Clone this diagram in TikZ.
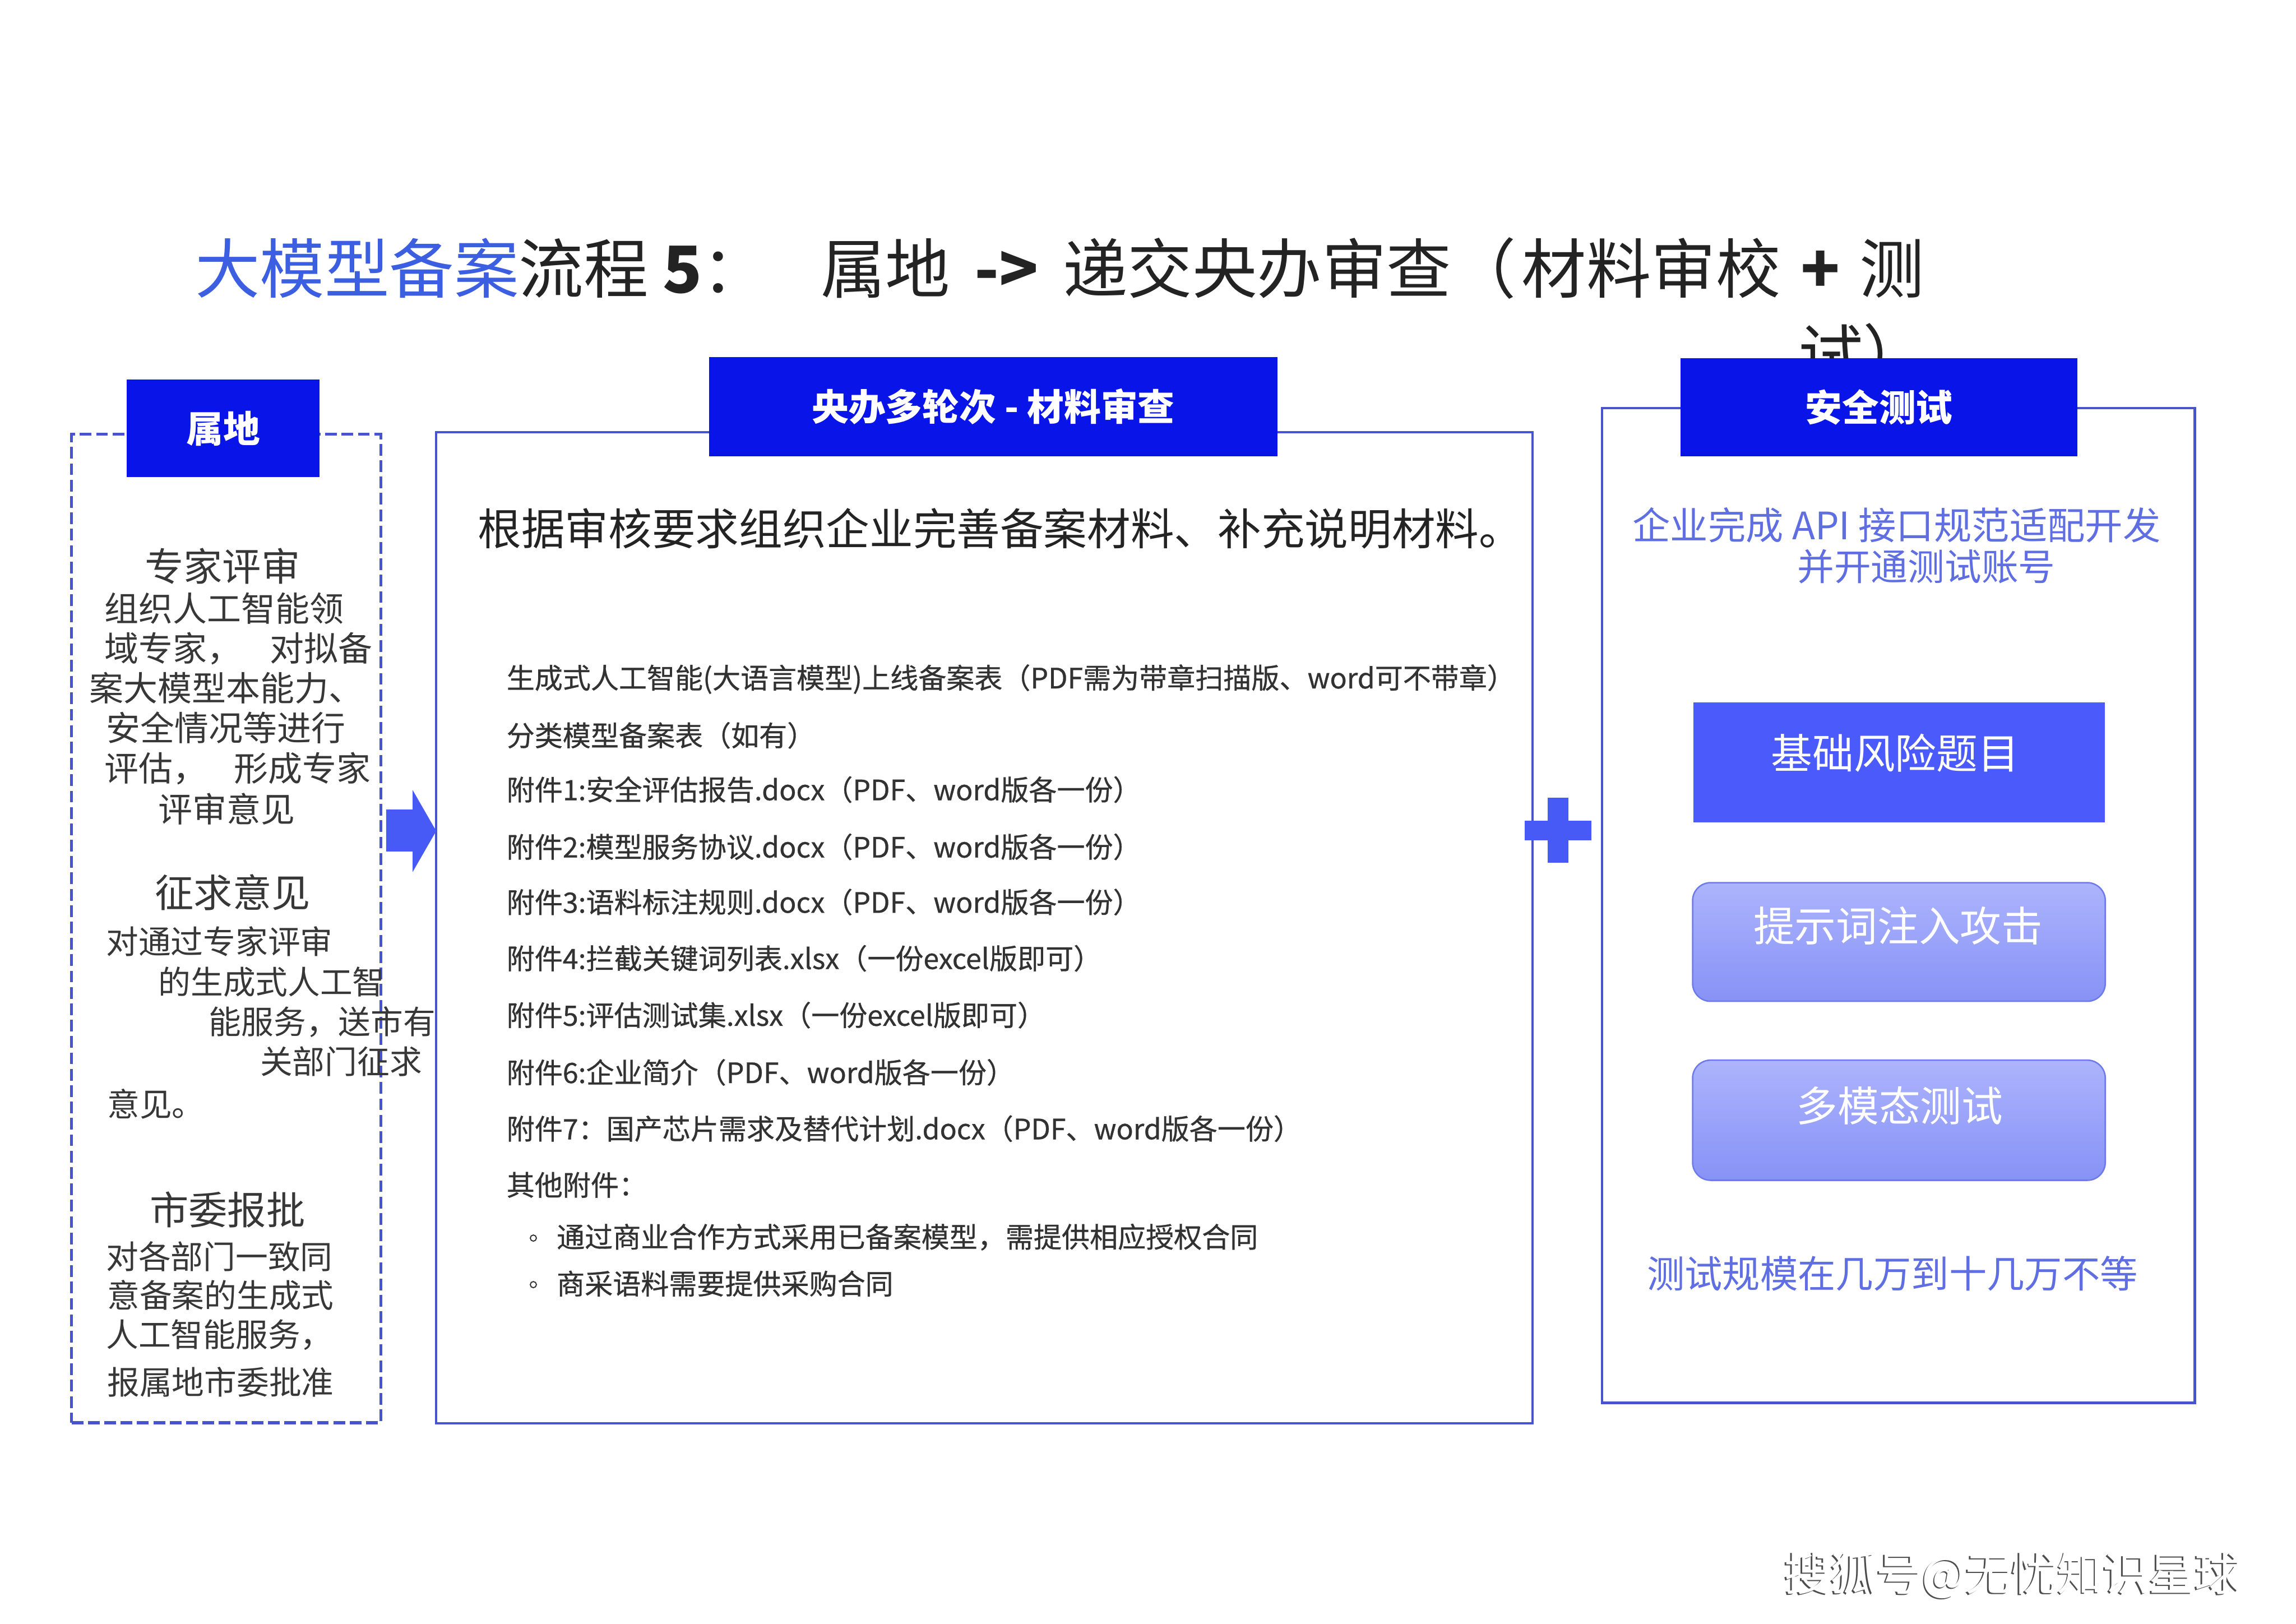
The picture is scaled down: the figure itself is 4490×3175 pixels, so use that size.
\documentclass[tikz,border=0pt]{standalone}
\usepackage{fontspec}
\setmainfont{Noto Sans CJK SC}
\newfontfamily\listfont[FakeBold=0.6]{Noto Sans CJK SC}
\usetikzlibrary{fit}
\definecolor{hdrblue}{RGB}{8,20,232}
\definecolor{boxline}{RGB}{72,84,205}
\definecolor{arrowblue}{RGB}{72,90,245}
\definecolor{basicblue}{RGB}{75,90,250}
\definecolor{gradtop}{RGB}{172,180,252}
\definecolor{gradbot}{RGB}{135,146,246}
\definecolor{gradline}{RGB}{110,122,235}
\definecolor{lighttext}{RGB}{95,110,225}
\definecolor{titleblue}{RGB}{60,95,225}
\definecolor{titlegray}{RGB}{35,35,35}
\definecolor{bodygray}{RGB}{55,55,55}
\definecolor{listgray}{RGB}{50,50,50}
\newcommand{\fsz}[1]{\fontsize{#1pt}{#1pt}\selectfont}
\begin{document}
\begin{tikzpicture}[x=0.01cm,y=-0.01cm,
  txt/.style={inner sep=0, anchor=west},
  ctxt/.style={inner sep=0, anchor=center},
  dashbox/.style={draw=boxline, line width=1.7pt, dash pattern=on 6.5pt off 2.6pt, inner sep=0},
  solidbox/.style={draw=boxline, line width=1.4pt, inner sep=0},
  hdr/.style={fill=hdrblue, text=white, inner sep=0, font=\fsz{20.5}\bfseries},
  lhead/.style={ctxt, text=bodygray, font=\fsz{21.6}},
  lbodyA/.style={txt, text=bodygray, font=\fsz{19}},
  lbodyB/.style={txt, text=bodygray, font=\fsz{18}},
  listline/.style={txt, text=listgray, font=\listfont\fsz{15.6}},
  gradbox/.style={top color=gradtop, bottom color=gradbot, draw=gradline, line width=0.8pt, rounded corners=10pt, inner sep=0},
  boxtext/.style={ctxt, text=white, font=\fsz{23}},
  righttext/.style={txt, text=lighttext, font=\fsz{20.5}}
]
\useasboundingbox (0,0) rectangle (4490,3175);
\fill[white] (0,0) rectangle (4490,3175);

% title
\node[txt, text=titlegray, font=\fsz{36}] (title) at (381,525)
  {{\color{titleblue}大模型备案}流程 \textbf{5}：\hspace{0.83em}属地\hspace{0.15em} \textbf{->} \hspace{0.15em}递交央办审查（\hspace{0.09em}材料审校\hspace{0.08em} \textbf{+} \hspace{0.08em}测};
\node[txt, text=titlegray, font=\fsz{36}] (title2) at (3516,692) {试）};

% frames
\node[dashbox, fit={(140,849) (745,2782)}] (loc) {};
\node[solidbox, fit={(853,845) (2997,2783)}] (mid) {};
\node[solidbox, fit={(3133,798) (4292,2743)}] (safe) {};

% headers
\node[hdr, minimum width=3.77cm, minimum height=1.91cm] (lochdr) at (436.5,837.5) {属地};
\node[hdr, minimum width=11.11cm, minimum height=1.94cm] (midhdr) at (1942.5,795) {央办多轮次 - 材料审查};
\node[hdr, minimum width=7.75cm, minimum height=1.92cm] (safehdr) at (3674.5,796) {安全测试};

% left text
\node[lhead] (h1) at (435,1107) {专家评审};
\node[lbodyA] (a1) at (204,1190) {组织人工智能领};
\node[lbodyA] (a2) at (204,1268) {域专家，\hspace{16pt}对拟备};
\node[lbodyA] (a3) at (174,1345) {案大模型本能力、};
\node[lbodyA] (a4) at (207,1423) {安全情况等进行};
\node[lbodyA] (a5) at (204,1503) {评估，\hspace{15pt}形成专家};
\node[lbodyA] (a6) at (309,1582) {评审意见};

\node[lhead] (h2) at (455,1745) {征求意见};
\node[lbodyB] (b1) at (207,1841) {对通过专家评审};
\node[lbodyB] (b2) at (309,1920) {的生成式人工智};
\node[lbodyB] (b3) at (408,1998) {能服务，送市有};
\node[lbodyB] (b4) at (508,2076) {关部门征求};
\node[lbodyB] (b5) at (209,2159) {意见。};

\node[lhead] (h3) at (445,2365) {市委报批};
\node[lbodyB] (c1) at (207,2457) {对各部门一致同};
\node[lbodyB] (c2) at (209,2533) {意备案的生成式};
\node[lbodyB] (c3) at (207,2610) {人工智能服务，};
\node[lbodyB] (c4) at (209,2702) {报属地市委批准};

% arrow
\fill[arrowblue] (755,1583) -- (807,1583) -- (807,1545) -- (853,1625) -- (807,1705) -- (807,1665) -- (755,1665) -- cycle;

% middle text
\node[txt, text=titlegray, font=\fsz{24.2}] (req) at (934,1034) {根据审核要求组织企业完善备案材料、补充说明材料。};
\node[listline] (l1) at (990,1328) {生成式人工智能(大语言模型)上线备案表（PDF需为带章扫描版、word可不带章）};
\node[listline] (l2) at (990,1438) {分类模型备案表（如有）};
\node[listline] (l3) at (990,1544) {附件1:安全评估报告.docx（PDF、word版各一份）};
\node[listline] (l4) at (990,1656) {附件2:模型服务协议.docx（PDF、word版各一份）};
\node[listline] (l5) at (990,1764) {附件3:语料标注规则.docx（PDF、word版各一份）};
\node[listline] (l6) at (990,1874) {附件4:拦截关键词列表.xlsx（一份excel版即可）};
\node[listline] (l7) at (990,1985) {附件5:评估测试集.xlsx（一份excel版即可）};
\node[listline] (l8) at (990,2097) {附件6:企业简介（PDF、word版各一份）};
\node[listline] (l9) at (990,2207) {附件7：国产芯片需求及替代计划.docx（PDF、word版各一份）};
\node[listline] (l10) at (990,2317) {其他附件：};
\draw[listgray, line width=0.6pt] (1043,2421) circle (6);
\node[listline] (l11) at (1088,2419) {通过商业合作方式采用已备案模型，需提供相应授权合同};
\draw[listgray, line width=0.6pt] (1043,2512) circle (6);
\node[listline] (l12) at (1088,2510) {商采语料需要提供采购合同};

% plus
\fill[arrowblue] (3027,1560) rectangle (3067,1687);
\fill[arrowblue] (2982,1605) rectangle (3112,1643);

% right text
\node[righttext, font=\fsz{21}] (api1) at (3192,1027) {企业完成 API 接口规范适配开发};
\node[righttext] (api2) at (3514,1108) {并开通测试账号};
\node[fill=basicblue, inner sep=0, fit={(3312,1374) (4116,1608)}] (basic) {};
\node[boxtext] (basict) at (3706,1472) {基础风险题目};
\node[gradbox, fit={(3310,1726) (4117,1958)}] (inject) {};
\node[boxtext] (injectt) at (3712,1810) {提示词注入攻击};
\node[gradbox, fit={(3310,2073) (4117,2308)}] (multi) {};
\node[boxtext] (multit) at (3715,2162) {多模态测试};
\node[txt, text=lighttext, font=\fsz{21}] (scale) at (3220,2490) {测试规模在几万到十几万不等};

% watermark
\node[txt, text=black!70, font=\fsz{25.5}] (wmshadow) at (3486,3083) {搜狐号@无忧知识星球};
\node[txt, text=white, font=\fsz{25.5}] (wm) at (3489,3080) {搜狐号@无忧知识星球};
\end{tikzpicture}
\end{document}
